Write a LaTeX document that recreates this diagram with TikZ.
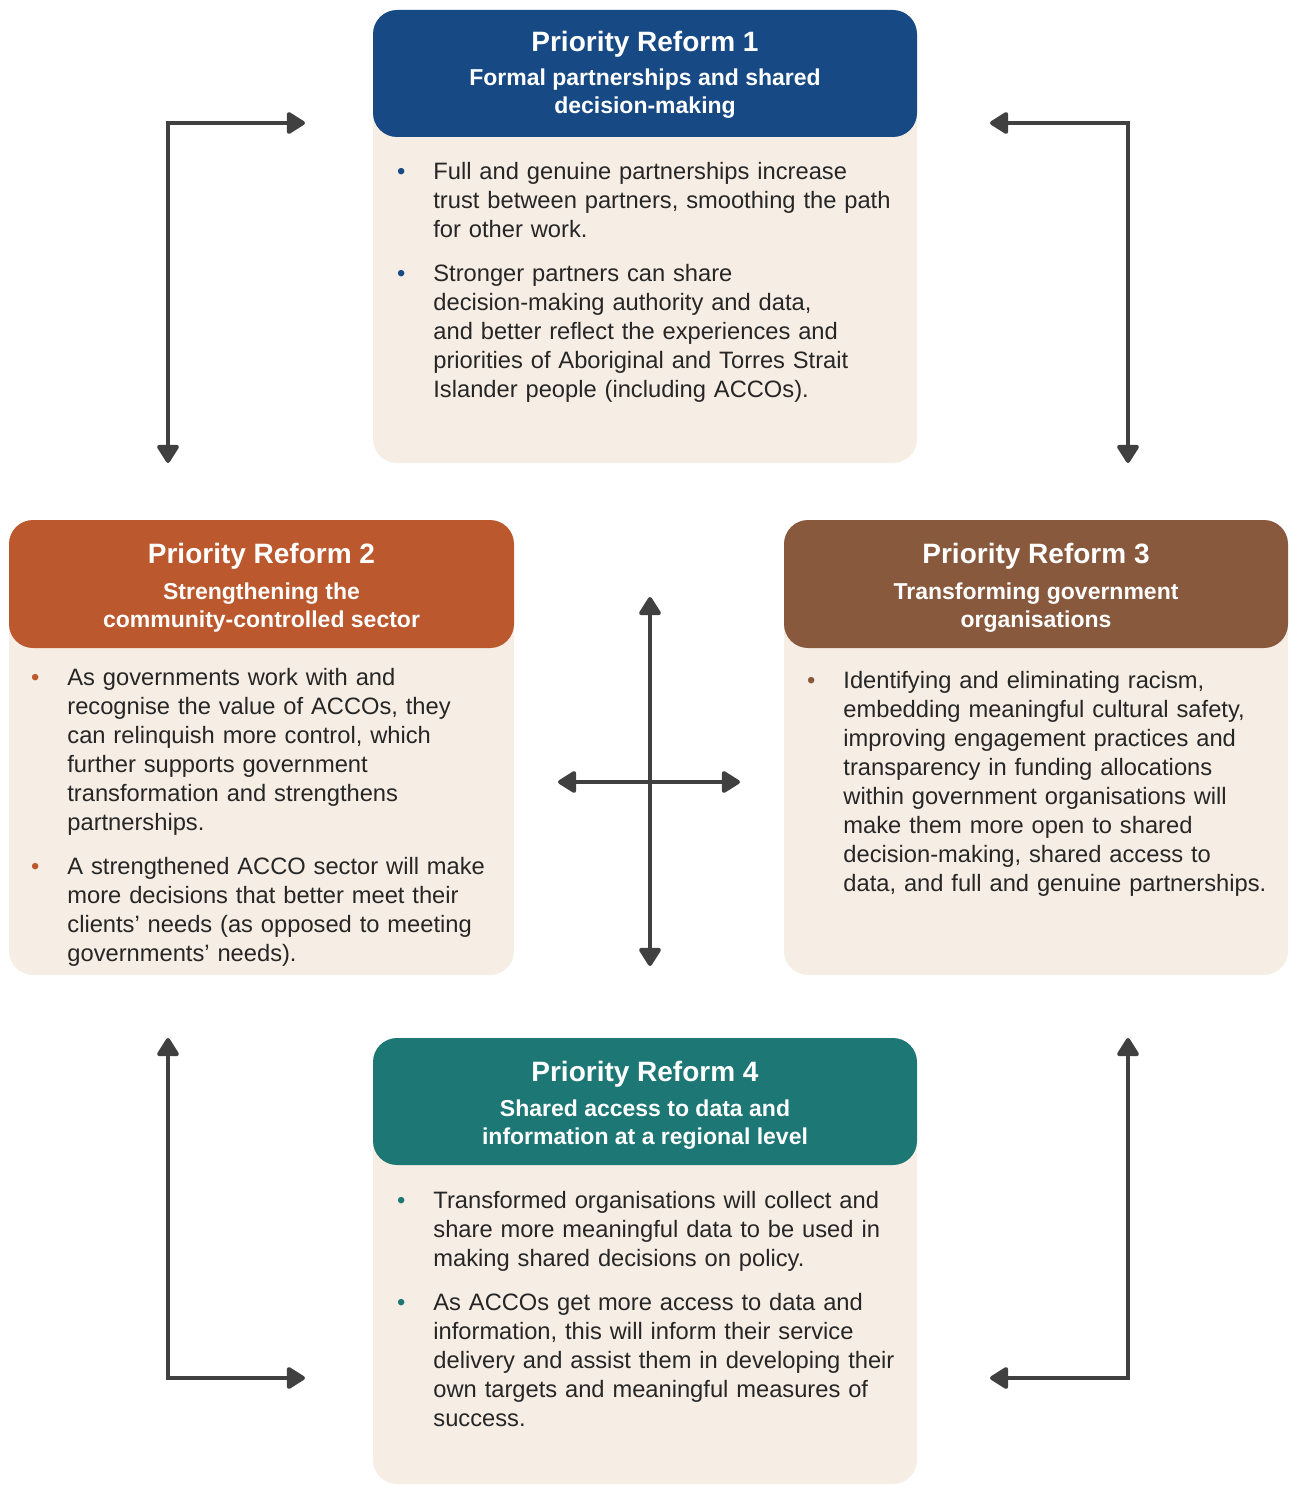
\documentclass[tikz,border=0pt]{standalone}
\usepackage{fontspec}
\setmainfont{Liberation Sans}
\usetikzlibrary{arrows.meta}
\definecolor{prone}{HTML}{174A84}
\definecolor{prtwo}{HTML}{BB582D}
\definecolor{prthree}{HTML}{88593D}
\definecolor{prfour}{HTML}{1D7774}
\definecolor{bodyfill}{HTML}{F6EDE4}
\definecolor{arrowgrey}{HTML}{404040}
\definecolor{textgrey}{HTML}{262626}
\newcommand{\pbul}[1]{\leavevmode\llap{\textcolor{#1}{\textbullet}\hspace{14pt}}}

\begin{document}
\begin{tikzpicture}[x=0.5pt,y=-0.5pt,
  hdr/.style={rounded corners=12pt,minimum width=272pt,minimum height=63.5pt,inner sep=0},
  bodybox/.style={fill=bodyfill,rounded corners=12pt,minimum width=272pt,inner sep=0},
  title/.style={anchor=base,text=white,font=\fontsize{14}{17}\selectfont\bfseries,inner sep=0},
  subtitle/.style={anchor=base,text=white,align=center,font=\fontsize{11.5}{14}\selectfont\bfseries,inner sep=0},
  bodytext/.style={anchor=base west,text=textgrey,text width=250pt,align=left,font=\fontsize{11.85}{14.5}\selectfont,inner sep=0},
  link/.style={arrowgrey,line width=2pt,{Triangle[length=10pt,width=12pt,round]}-{Triangle[length=10pt,width=12pt,round]}}]
\useasboundingbox (0,0) rectangle (1290,1486);

% Priority Reform 1
\node[bodybox,minimum height=196.5pt] (b1) at (645,266.5) {};
\node[hdr,fill=prone] (h1) at (645,73.5) {};
\node[title] (t1) at (645,52) {Priority Reform 1};
\node[subtitle] (s1) at (645,114) {Formal partnerships and shared\\decision-making};
\node[bodytext] (x1) at (433,180) {\pbul{prone}Full and genuine partnerships increase\\
trust between partners, smoothing the path\\
for other work.\\[7.5pt]
\pbul{prone}Stronger partners can share\\
decision-making authority and data,\\
and better reflect the experiences and\\
priorities of Aboriginal and Torres Strait\\
Islander people (including ACCOs).};

% Priority Reform 2
\node[bodybox,minimum width=252.5pt,minimum height=197.5pt] (b2) at (261.5,777.5) {};
\node[hdr,fill=prtwo,minimum width=252.5pt,minimum height=64pt] (h2) at (261.5,584) {};
\node[title] (t2) at (261.5,563) {Priority Reform 2};
\node[subtitle] (s2) at (261.5,627) {Strengthening the\\community-controlled sector};
\node[bodytext] (x2) at (67,685) {\pbul{prtwo}As governments work with and\\
recognise the value of ACCOs, they\\
can relinquish more control, which\\
further supports government\\
transformation and strengthens\\
partnerships.\\[7.5pt]
\pbul{prtwo}A strengthened ACCO sector will make\\
more decisions that better meet their\\
clients’ needs (as opposed to meeting\\
governments’ needs).};

% Priority Reform 3
\node[bodybox,minimum width=252pt,minimum height=197.5pt] (b3) at (1036,777.5) {};
\node[hdr,fill=prthree,minimum width=252pt,minimum height=64pt] (h3) at (1036,584) {};
\node[title] (t3) at (1036,563) {Priority Reform 3};
\node[subtitle] (s3) at (1036,627) {Transforming government\\organisations};
\node[bodytext] (x3) at (843,688) {\pbul{prthree}Identifying and eliminating racism,\\
embedding meaningful cultural safety,\\
improving engagement practices and\\
transparency in funding allocations\\
within government organisations will\\
make them more open to shared\\
decision-making, shared access to\\
data, and full and genuine partnerships.};

% Priority Reform 4
\node[bodybox,minimum height=192pt] (b4) at (645,1292) {};
\node[hdr,fill=prfour] (h4) at (645,1101.5) {};
\node[title] (t4) at (645,1081) {Priority Reform 4};
\node[subtitle] (s4) at (645,1144) {Shared access to data and\\information at a regional level};
\node[bodytext] (x4) at (433,1208) {\pbul{prfour}Transformed organisations will collect and\\
share more meaningful data to be used in\\
making shared decisions on policy.\\[7.5pt]
\pbul{prfour}As ACCOs get more access to data and\\
information, this will inform their service\\
delivery and assist them in developing their\\
own targets and meaningful measures of\\
success.};

% connectors
\coordinate (tlA) at (168,463);
\coordinate (tlB) at (305,123);
\coordinate (trA) at (990,123);
\coordinate (trB) at (1128,463);
\coordinate (blA) at (168,1038);
\coordinate (blB) at (305,1378);
\coordinate (brA) at (990,1378);
\coordinate (brB) at (1128,1038);
\coordinate (cN) at (650,597);
\coordinate (cS) at (650,966);
\coordinate (cW) at (558,782);
\coordinate (cE) at (740,782);
\draw[link] (tlA) |- (tlB);
\draw[link] (trA) -| (trB);
\draw[link] (blA) |- (blB);
\draw[link] (brA) -| (brB);
\draw[link] (cN) -- (cS);
\draw[link] (cW) -- (cE);
\end{tikzpicture}
\end{document}
